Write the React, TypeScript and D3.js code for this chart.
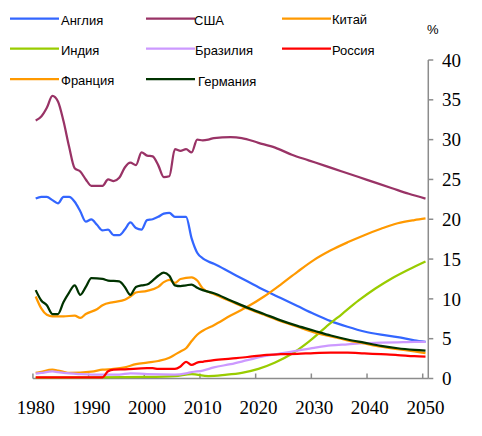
import React from "react";
import * as d3 from "d3";

type P = [number, number];

const englandData: P[] = [[1980,22.6],[1981,22.8],[1982,22.8],[1983,22.4],[1984,22.0],[1985,22.8],[1986,22.8],[1987,22.2],[1988,21.0],[1989,19.7],[1990,20.0],[1991,19.3],[1992,18.6],[1993,18.7],[1994,18.0],[1995,18.0],[1996,18.7],[1997,19.6],[1998,18.9],[1999,18.7],[2000,19.9],[2001,20.0],[2002,20.3],[2003,20.7],[2004,20.8],[2005,20.3],[2006,20.3],[2007,20.3],[2008,17.6],[2009,15.8],[2010,15.1],[2011,14.7],[2012,14.4],[2015,13.3],[2018,12.2],[2021,11.1],[2024,10.1],[2027,9.1],[2030,8.1],[2033,7.2],[2036,6.5],[2039,5.9],[2042,5.5],[2045,5.2],[2048,4.8],[2050,4.6]];
const usaData: P[] = [[1980,32.4],[1981,32.9],[1982,34.0],[1983,35.5],[1984,34.8],[1985,32.3],[1986,29.1],[1987,26.4],[1988,26.0],[1989,25.0],[1990,24.2],[1991,24.2],[1992,24.2],[1993,25.0],[1994,24.8],[1995,25.2],[1996,26.5],[1997,27.1],[1998,26.8],[1999,28.4],[2000,28.0],[2001,27.9],[2002,26.8],[2003,25.3],[2004,25.4],[2005,28.8],[2006,28.6],[2007,28.8],[2008,28.4],[2009,30.0],[2010,29.9],[2011,30.0],[2012,30.2],[2015,30.3],[2017,30.2],[2020,29.6],[2023,29.0],[2026,28.1],[2029,27.4],[2032,26.7],[2035,26.0],[2038,25.3],[2041,24.6],[2044,23.9],[2047,23.2],[2050,22.6]];
const chinaData: P[] = [[1980,0.7],[1981,0.85],[1983,1.1],[1984,1.0],[1985,0.85],[1986,0.7],[1990,0.85],[1992,1.1],[1994,1.2],[1996,1.4],[1998,1.8],[2000,2.0],[2002,2.2],[2004,2.6],[2005,3.0],[2006,3.4],[2007,3.8],[2008,4.7],[2009,5.5],[2010,6.0],[2012,6.7],[2015,7.9],[2018,9.0],[2021,10.3],[2024,11.8],[2027,13.4],[2030,14.9],[2033,16.1],[2036,17.1],[2039,18.0],[2042,18.8],[2045,19.5],[2048,19.9],[2050,20.1]];
const indiaData: P[] = [[1980,0.1],[1990,0.15],[2000,0.2],[2005,0.3],[2008,0.55],[2011,0.3],[2014,0.45],[2017,0.7],[2020,1.2],[2023,2.0],[2026,3.1],[2029,4.6],[2032,6.4],[2035,8.1],[2038,9.8],[2041,11.3],[2044,12.6],[2047,13.7],[2050,14.7]];
const brazilData: P[] = [[1980,0.6],[1981,0.7],[1983,0.9],[1984,0.8],[1985,0.7],[1988,0.55],[1990,0.5],[1995,0.5],[1997,0.65],[2000,0.55],[2005,0.5],[2007,0.65],[2008,0.8],[2010,1.0],[2012,1.4],[2015,1.8],[2018,2.3],[2021,2.8],[2024,3.15],[2027,3.5],[2030,3.85],[2033,4.15],[2036,4.3],[2039,4.45],[2042,4.5],[2045,4.55],[2048,4.6],[2050,4.6]];
const russiaData: P[] = [[1980,0.15],[1992,0.15],[1993,0.9],[1994,1.1],[1996,1.15],[2000,1.3],[2001,1.3],[2002,1.2],[2005,1.2],[2006,1.5],[2007,2.1],[2008,1.7],[2009,2.0],[2010,2.1],[2012,2.3],[2015,2.5],[2018,2.7],[2021,2.95],[2024,3.05],[2027,3.1],[2030,3.2],[2033,3.25],[2036,3.25],[2039,3.15],[2042,3.05],[2045,2.95],[2048,2.8],[2050,2.75]];
const franceData: P[] = [[1980,10.3],[1981,8.8],[1982,8.0],[1983,7.8],[1985,7.8],[1987,7.9],[1988,7.6],[1989,8.1],[1991,8.7],[1992,9.2],[1994,9.6],[1996,9.9],[1997,10.3],[1998,10.8],[2000,11.0],[2002,11.5],[2003,12.1],[2004,12.4],[2005,12.0],[2006,12.5],[2008,12.7],[2009,12.3],[2010,11.3],[2012,10.6],[2015,9.7],[2018,8.8],[2021,8.0],[2024,7.2],[2027,6.5],[2030,5.8],[2033,5.3],[2036,4.8],[2039,4.4],[2042,4.0],[2045,3.7],[2048,3.4],[2050,3.2]];
const germanyData: P[] = [[1980,11.1],[1981,9.8],[1982,9.2],[1983,8.1],[1984,8.1],[1985,9.6],[1986,10.8],[1987,11.7],[1988,10.5],[1989,11.5],[1990,12.6],[1992,12.5],[1993,12.3],[1995,12.2],[1996,11.5],[1997,10.5],[1998,11.5],[1999,11.7],[2000,11.8],[2001,12.3],[2002,12.9],[2003,13.3],[2004,12.9],[2005,11.7],[2006,11.6],[2007,11.7],[2008,11.8],[2009,11.4],[2010,11.1],[2012,10.7],[2015,9.8],[2018,8.9],[2021,8.1],[2024,7.3],[2027,6.6],[2030,6.0],[2033,5.4],[2036,4.9],[2039,4.5],[2042,4.1],[2045,3.8],[2048,3.6],[2050,3.5]];

const seriesNames = ["Англия", "США", "Китай", "Индия", "Бразилия", "Россия", "Франция", "Германия"];
const seriesColors = ["#3366FF", "#993366", "#FF9900", "#99CC00", "#CC99FF", "#FF0000", "#FF9900", "#003300"];
const seriesData = [englandData, usaData, chinaData, indiaData, brazilData, russiaData, franceData, germanyData];

const xTickYears = [1980, 1990, 2000, 2010, 2020, 2030, 2040, 2050];
const yTicks = [0, 5, 10, 15, 20, 25, 30, 35, 40];

// legend layout: [lineX, lineY, textX, textY]
const legendPos: [number, number, number, number][] = [
  [10, 18.5, 61, 24.5],
  [146, 18.5, 194, 24.5],
  [282, 18.5, 332, 24],
  [10, 48.5, 61, 55],
  [146, 48.5, 195, 55],
  [282, 48.5, 332, 55],
  [10, 79, 61, 85],
  [146, 79, 198, 86],
];

export default function App() {
  const x = d3.scaleLinear().domain([1980, 2050]).range([35.7, 425.5]);
  const y = d3.scaleLinear().domain([0, 40]).range([378.5, 60]);
  const line = d3
    .line<P>()
    .x((d) => x(d[0]))
    .y((d) => y(d[1]))
    .curve(d3.curveMonotoneX);
  const axisColor = "#8c8c8c";
  const xLeft = x(1979.5);
  const xRight = x(2050.5);
  return (
    <svg
      width={482}
      height={436}
      style={{ position: "absolute", left: 0, top: 0, background: "#fff" }}
    >
      {/* axes */}
      <line x1={xLeft} x2={xRight} y1={y(0)} y2={y(0)} stroke={axisColor} strokeWidth={1.5} />
      <line x1={xRight} x2={xRight} y1={y(40)} y2={y(0)} stroke={axisColor} strokeWidth={1.5} />
      {xTickYears.map((yr) => (
        <line
          key={"xt" + yr}
          x1={x(yr - 0.5)}
          x2={x(yr - 0.5)}
          y1={y(0)}
          y2={y(0) - 5}
          stroke={axisColor}
          strokeWidth={1.5}
        />
      ))}
      {yTicks.map((v) => (
        <line
          key={"yt" + v}
          x1={xRight}
          x2={xRight + 5}
          y1={y(v)}
          y2={y(v)}
          stroke={axisColor}
          strokeWidth={1.5}
        />
      ))}
      {yTicks.map((v) => (
        <text
          key={"yl" + v}
          x={442}
          y={y(v)}
          dy="0.35em"
          fontFamily="'Liberation Serif', 'Times New Roman', serif"
          fontSize={19}
          fill="#000"
        >
          {v}
        </text>
      ))}
      {xTickYears.map((yr) => (
        <text
          key={"xl" + yr}
          x={x(yr)}
          y={414}
          textAnchor="middle"
          fontFamily="'Liberation Serif', 'Times New Roman', serif"
          fontSize={19}
          fill="#000"
        >
          {yr}
        </text>
      ))}
      <text x={427} y={34} fontFamily="'Liberation Sans', Arial, sans-serif" fontSize={13} fill="#000">
        %
      </text>
      {/* series */}
      {seriesData.map((d, i) => (
        <path
          key={"s" + i}
          d={line(d) || ""}
          fill="none"
          stroke={seriesColors[i]}
          strokeWidth={2.25}
          strokeLinejoin="round"
        />
      ))}
      {/* legend */}
      {seriesNames.map((name, i) => {
        const [lx, ly, tx, ty] = legendPos[i];
        return (
          <g key={"lg" + i}>
            <line x1={lx} x2={lx + 49} y1={ly} y2={ly} stroke={seriesColors[i]} strokeWidth={2.25} />
            <text
              x={tx}
              y={ty}
              fontFamily="'Liberation Sans', Arial, sans-serif"
              fontSize={13}
              fill="#000"
            >
              {name}
            </text>
          </g>
        );
      })}
    </svg>
  );
}
